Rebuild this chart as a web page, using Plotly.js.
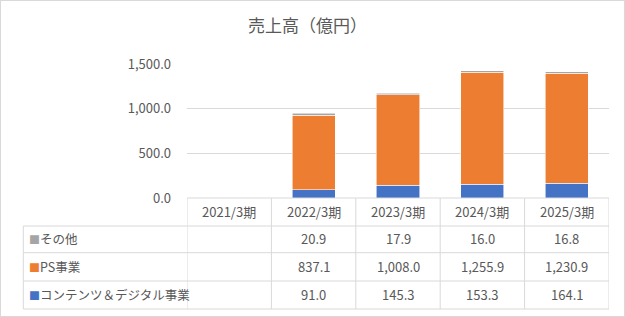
<!DOCTYPE html>
<html>
<head>
<meta charset="utf-8">
<script src="https://cdn.plot.ly/plotly-3.0.1.min.js"></script>
<style>
  html, body { margin: 0; padding: 0; background: #fff; }
  #wrap { position: relative; width: 625px; height: 317px; }
  #chart { width: 625px; height: 317px; }
  #frame { position: absolute; left: 0; top: 0; width: 623px; height: 315px; border: 1px solid #d9d9d9; pointer-events: none; }
</style>
</head>
<body>
<div id="wrap"><div id="chart"></div><div id="frame"></div></div>
<script>
// ---- data ----
const categories = ['2021/3期', '2022/3期', '2023/3期', '2024/3期', '2025/3期'];
const contentsDigital = [null, 91.0, 145.3, 153.3, 164.1];   // コンテンツ＆デジタル事業
const psBusiness      = [null, 837.1, 1008.0, 1255.9, 1230.9]; // PS事業
const others          = [null, 20.9, 17.9, 16.0, 16.8];      // その他
const seriesNames = ['コンテンツ＆デジタル事業', 'PS事業', 'その他'];
const chartTitle = '売上高（億円）';

// ---- styles ----
const colors = ['#4472C4', '#ED7D31', '#A5A5A5'];
const textColor = '#595959';
const gridColor = '#d9d9d9';
const font = '"Noto Sans CJK JP", "Noto Sans", sans-serif';

const W = 625, H = 317;
const L = 187, R = 16, T = 64, B = 119;
const plotW = W - L - R, plotH = H - T - B;
const plotBottom = T + plotH;
const px = X => (X - L) / plotW;
const py = Y => (plotBottom - Y) / plotH;

const seriesValues = [contentsDigital, psBusiness, others];
const traces = seriesValues.map((vals, i) => ({
  type: 'bar',
  name: seriesNames[i],
  x: categories,
  y: vals,
  marker: { color: colors[i], line: { color: 'rgba(255,255,255,0.7)', width: 0.8 } },
  hoverinfo: 'x+y+name'
}));

// table geometry (pixels)
const tableLeft = 23.3, tableRight = 609;
const rowLines = [226, 252.7, 281, 309];
const headerTop = plotBottom;
const headerCenter = 211;
const rowCenters = [238.5, 266, 294]; // その他, PS事業, コンテンツ

const shapes = [];
shapes.push({ type: 'line', xref: 'paper', yref: 'paper', x0: 0, x1: px(tableRight), y0: py(headerTop), y1: py(headerTop), line: { color: gridColor, width: 1 } });
rowLines.forEach(Y => shapes.push({ type: 'line', xref: 'paper', yref: 'paper', x0: px(tableLeft), x1: px(tableRight), y0: py(Y), y1: py(Y), line: { color: gridColor, width: 1 } }));
for (let i = 0; i <= categories.length; i++) {
  shapes.push({ type: 'line', xref: 'x', yref: 'paper', x0: i - 0.5, x1: i - 0.5, y0: py(headerTop), y1: py(rowLines[3]), line: { color: gridColor, width: 1 } });
}
shapes.push({ type: 'line', xref: 'paper', yref: 'paper', x0: px(tableLeft), x1: px(tableLeft), y0: py(rowLines[0]), y1: py(rowLines[3]), line: { color: gridColor, width: 1 } });

const fmt = v => (v === null || v === undefined) ? '' : v.toLocaleString('en-US', { minimumFractionDigits: 1, maximumFractionDigits: 1 });

const annotations = [];
annotations.push({ text: chartTitle, xref: 'paper', yref: 'paper', x: px(307), y: py(25), xanchor: 'center', yanchor: 'middle', showarrow: false, font: { family: font, size: 17, color: textColor } });
categories.forEach(c => annotations.push({ text: c, xref: 'x', yref: 'paper', x: c, y: py(headerCenter), xanchor: 'center', yanchor: 'middle', showarrow: false, font: { family: font, size: 13, color: textColor } }));
const rowOrder = [2, 1, 0];
rowOrder.forEach((si, r) => {
  annotations.push({
    text: '<span style="font-size:11px;color:' + colors[si] + '">■</span>' + seriesNames[si],
    xref: 'paper', yref: 'paper', x: px(27), y: py(rowCenters[r]), xanchor: 'left', yanchor: 'middle', showarrow: false,
    font: { family: font, size: 12.5, color: textColor }
  });
  categories.forEach((c, ci) => {
    const t = fmt(seriesValues[si][ci]);
    if (t) annotations.push({ text: t, xref: 'x', yref: 'paper', x: c, y: py(rowCenters[r]), xanchor: 'center', yanchor: 'middle', showarrow: false, font: { family: font, size: 13, color: textColor } });
  });
});

const layout = {
  width: W, height: H,
  margin: { l: L, r: R, t: T, b: B, pad: 0 },
  paper_bgcolor: '#ffffff', plot_bgcolor: '#ffffff',
  barmode: 'stack',
  bargap: 0.49,
  showlegend: false,
  font: { family: font, color: textColor },
  xaxis: {
    type: 'category', categoryorder: 'array', categoryarray: categories,
    range: [-0.5, categories.length - 0.5],
    showticklabels: false, showgrid: false, zeroline: false, showline: false, ticks: '', fixedrange: true
  },
  yaxis: {
    range: [0, 1500], tickvals: [0, 500, 1000, 1500], tickformat: ',.1f',
    showgrid: true, gridcolor: gridColor, gridwidth: 1,
    zeroline: false, showline: false, ticks: '', ticklabelstandoff: 15,
    tickfont: { family: font, size: 13, color: textColor }, fixedrange: true
  },
  shapes: shapes,
  annotations: annotations
};

Plotly.newPlot('chart', traces, layout, { displayModeBar: false, staticPlot: true });
</script>
</body>
</html>
